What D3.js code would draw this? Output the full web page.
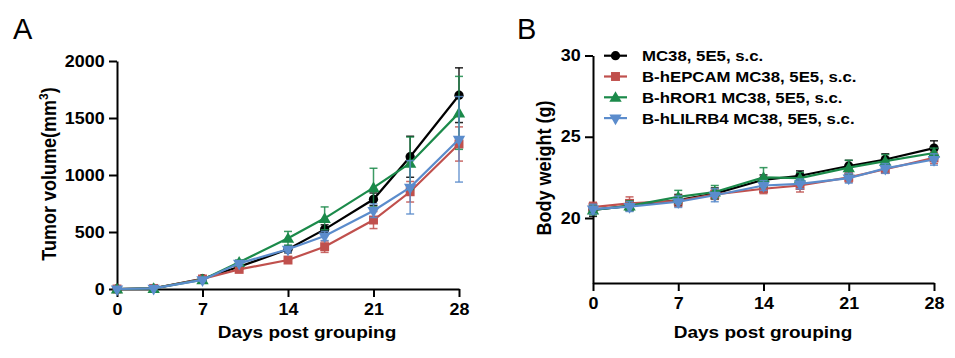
<!DOCTYPE html>
<html>
<head>
<meta charset="utf-8">
<script src="https://cdn.jsdelivr.net/npm/d3@7"></script>
<style>
  html, body { margin: 0; padding: 0; background: #fff; }
  svg { display: block; }
  text { font-family: "Liberation Sans", Arial, Helvetica, sans-serif; }
</style>
</head>
<body>
<svg id="chart" width="955" height="358"></svg>
<script>
// ---------------- DATA ----------------
const days = [0, 3, 7, 10, 14, 17, 21, 24, 28];
const seriesNames = ["MC38, 5E5, s.c.", "B-hEPCAM MC38, 5E5, s.c.", "B-hROR1 MC38, 5E5, s.c.", "B-hLILRB4 MC38, 5E5, s.c."];
const seriesColors = ["#000000", "#c0504d", "#1b8a4a", "#5b8ccc"];
const seriesSymbols = ["circle", "square", "triangleUp", "triangleDown"];

// Panel A: tumor volume (mm3), mean and SEM
const tumorMC38      = [0, 5, 90, 195, 348, 523, 787, 1160, 1700];
const tumorMC38Sem   = [0, 0, 10, 20, 30, 40, 55, 180, 240];
const tumorEPCAM     = [0, 5, 88, 172, 254, 371, 605, 853, 1272];
const tumorEPCAMSem  = [0, 0, 10, 15, 20, 50, 75, 90, 150];
const tumorROR1      = [0, 5, 82, 235, 445, 620, 889, 1103, 1545];
const tumorROR1Sem   = [0, 0, 10, 20, 60, 100, 170, 230, 320];
const tumorLILRB4    = [0, 5, 80, 225, 348, 465, 687, 892, 1313];
const tumorLILRB4Sem = [0, 0, 10, 20, 25, 40, 60, 234, 375];

// Panel B: body weight (g), mean and SEM
const bwMC38      = [20.5, 20.75, 21.1, 21.5, 22.35, 22.6, 23.2, 23.6, 24.3];
const bwMC38Sem   = [0.4, 0.3, 0.35, 0.35, 0.3, 0.3, 0.35, 0.35, 0.45];
const bwEPCAM     = [20.67, 20.9, 21.05, 21.45, 21.8, 22.0, 22.5, 23.0, 23.7];
const bwEPCAMSem  = [0.3, 0.4, 0.35, 0.3, 0.3, 0.4, 0.3, 0.25, 0.35];
const bwROR1      = [20.5, 20.75, 21.3, 21.6, 22.5, 22.45, 23.1, 23.5, 24.0];
const bwROR1Sem   = [0.3, 0.3, 0.4, 0.4, 0.6, 0.35, 0.45, 0.4, 0.3];
const bwLILRB4    = [20.55, 20.7, 21.0, 21.4, 22.0, 22.1, 22.45, 23.05, 23.6];
const bwLILRB4Sem = [0.3, 0.3, 0.35, 0.4, 0.3, 0.3, 0.3, 0.3, 0.35];

const xTicks = [0, 7, 14, 21, 28];
const tumorTicks = [0, 500, 1000, 1500, 2000];
const bwTicks = [20, 25, 30];

// ---------------- DRAW ----------------
const svg = d3.select("#chart");
const SX = 1.12; // horizontal stretch of bold text

const symbolMap = {
  circle: d3.symbolCircle,
  square: d3.symbolSquare,
  triangleUp: d3.symbolTriangle,
  triangleDown: d3.symbolTriangle
};
const symbolSize = { circle: 68, square: 80, triangleUp: 66, triangleDown: 66 };

function drawMarker(g, type, x, y, color) {
  const p = g.append("path")
    .attr("d", d3.symbol().type(symbolMap[type]).size(symbolSize[type])())
    .attr("fill", color);
  if (type === "triangleDown") p.attr("transform", `translate(${x},${y}) rotate(180)`);
  else if (type === "triangleUp") p.attr("transform", `translate(${x},${y + 1})`);
  else p.attr("transform", `translate(${x},${y})`);
}

function panel(opts) {
  const g = svg.append("g");
  const x = d3.scaleLinear().domain([0, 28]).range([opts.x0, opts.x1]);
  const y = d3.scaleLinear().domain(opts.yDomain).range([opts.y0, opts.y1]);

  // axes
  const ax = g.append("g").attr("transform", `translate(0,${opts.y0})`)
    .call(d3.axisBottom(x).tickValues(xTicks).tickSize(8).tickSizeOuter(0).tickPadding(7));
  const ay = g.append("g").attr("transform", `translate(${opts.x0},0)`)
    .call(d3.axisLeft(y).tickValues(opts.yTicks).tickSize(8).tickSizeOuter(0).tickPadding(3).tickFormat(d3.format("d")));
  [ax, ay].forEach(a => {
    a.select(".domain").attr("stroke", "#000").attr("stroke-width", 2);
    a.selectAll(".tick line").attr("stroke", "#000").attr("stroke-width", 2);
    a.selectAll(".tick text").attr("fill", "#000").attr("font-size", 16).attr("font-weight", "bold")
      .attr("font-family", '"Liberation Sans", Arial, sans-serif')
      .attr("transform", `scale(${SX},1)`);
  });

  // x title
  g.append("text")
    .attr("transform", `translate(${opts.xlabelX},338) scale(${SX},1)`)
    .attr("text-anchor", "middle").attr("font-size", 17).attr("font-weight", "bold")
    .text("Days post grouping");

  // y title
  const yt = g.append("text")
    .attr("transform", `translate(${opts.ylabelX},${opts.ylabelY}) rotate(-90) scale(1,${SX})`)
    .attr("text-anchor", "middle").attr("font-size", 18).attr("font-weight", "bold");
  yt.append("tspan").text(opts.yLabel);
  if (opts.sup) {
    yt.append("tspan").attr("font-size", 12).attr("dy", -7).text(opts.sup);
    yt.append("tspan").attr("dy", 7).text(")");
  }

  // panel letter
  g.append("text").attr("x", opts.letterX).attr("y", 39).attr("font-size", 29).text(opts.letter);

  // series
  opts.series.forEach((s, i) => {
    const color = seriesColors[i];
    const sg = g.append("g");
    // error bars
    days.forEach((d, j) => {
      const e = s.sem[j];
      if (!e) return;
      const cx = x(d), yt1 = y(s.mean[j] + e), yb1 = y(s.mean[j] - e);
      sg.append("line").attr("x1", cx).attr("x2", cx).attr("y1", yt1).attr("y2", yb1)
        .attr("stroke", color).attr("stroke-width", 1.5).attr("opacity", 0.85);
      [yt1, yb1].forEach(yy => sg.append("line").attr("x1", cx - 4).attr("x2", cx + 4).attr("y1", yy).attr("y2", yy)
        .attr("stroke", color).attr("stroke-width", 1.5).attr("opacity", 0.85));
    });
    // line
    sg.append("path")
      .attr("d", d3.line().x((d, j) => x(d)).y((d, j) => y(s.mean[j]))(days))
      .attr("fill", "none").attr("stroke", color).attr("stroke-width", 2.2);
    days.forEach((d, j) => drawMarker(sg, seriesSymbols[i], x(d), y(s.mean[j]), color));
  });
}

panel({
  x0: 117, x1: 459, y0: 289, y1: 61, yDomain: [0, 2000], yTicks: tumorTicks,
  yLabel: "Tumor volume(mm", sup: "3", ylabelX: 56, ylabelY: 174, letter: "A", letterX: 13, xlabelX: 307,
  series: [
    { mean: tumorMC38, sem: tumorMC38Sem },
    { mean: tumorEPCAM, sem: tumorEPCAMSem },
    { mean: tumorROR1, sem: tumorROR1Sem },
    { mean: tumorLILRB4, sem: tumorLILRB4Sem }
  ]
});

panel({
  x0: 593, x1: 934, y0: 283, y1: 55.5, yDomain: [16, 30], yTicks: bwTicks,
  yLabel: "Body weight (g)", ylabelX: 551, ylabelY: 168, letter: "B", letterX: 517, xlabelX: 763,
  series: [
    { mean: bwMC38, sem: bwMC38Sem },
    { mean: bwEPCAM, sem: bwEPCAMSem },
    { mean: bwROR1, sem: bwROR1Sem },
    { mean: bwLILRB4, sem: bwLILRB4Sem }
  ]
});

// legend
const lg = svg.append("g");
seriesNames.forEach((name, i) => {
  const yy = 55.7 + i * 20.8;
  lg.append("line").attr("x1", 604).attr("x2", 627).attr("y1", yy).attr("y2", yy)
    .attr("stroke", seriesColors[i]).attr("stroke-width", 2.2);
  drawMarker(lg, seriesSymbols[i], 615.5, yy, seriesColors[i]);
  lg.append("text").attr("transform", `translate(642,${yy + 5.5}) scale(${SX},1)`)
    .attr("font-size", 15).attr("font-weight", "bold").text(name);
});
</script>
</body>
</html>
